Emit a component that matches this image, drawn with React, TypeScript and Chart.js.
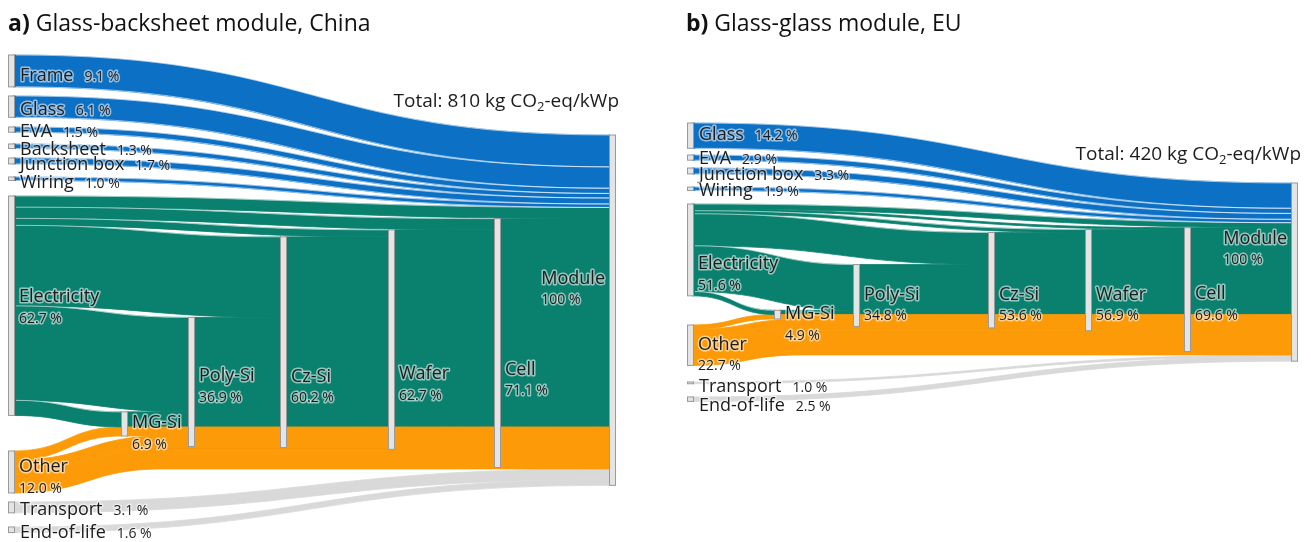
import React, { useEffect, useRef } from "react";
import { Chart, registerables } from "chart.js";

Chart.register(...registerables);

const CANVAS_H = 542;
const FONT = '"Open Sans", "Noto Sans", "DejaVu Sans", sans-serif';
const COLORS: Record<string, string> = {
  material: "#0c70c4",
  electricity: "#0a806e",
  other: "#fd9a07",
  transport: "#d9d9d9",
};
const NODE_FILL = "#e4e4e4";
const NODE_STROKE = "#9a9a9a";
const TEXT = "#1c1c1c";

// ===== a) Glass-backsheet module, China =====
const A_SOURCES = ["Frame", "Glass", "EVA", "Backsheet", "Junction box", "Wiring", "Electricity", "Other", "Transport", "End-of-life"];
const A_SOURCE_SHARE = [9.1, 6.1, 1.5, 1.3, 1.7, 1.0, 62.7, 12.0, 3.1, 1.6];
const A_SOURCE_GROUP = ["material", "material", "material", "material", "material", "material", "electricity", "other", "transport", "transport"];
const A_STAGES = ["MG-Si", "Poly-Si", "Cz-Si", "Wafer", "Cell", "Module"];
const A_STAGE_SHARE = [6.9, 36.9, 60.2, 62.7, 71.1, 100];
const A_ELECTRICITY_TO_STAGE = [4.3, 27.0, 23.0, 2.0, 3.2, 3.2];
const A_OTHER_TO_STAGE = [2.6, 3.0, 0.3, 0.5, 5.2, 0.4];
const A_TOTAL_KG = 810;

// ===== b) Glass-glass module, EU =====
const B_SOURCES = ["Glass", "EVA", "Junction box", "Wiring", "Electricity", "Other", "Transport", "End-of-life"];
const B_SOURCE_SHARE = [14.2, 2.9, 3.3, 1.9, 51.6, 22.7, 1.0, 2.5];
const B_SOURCE_GROUP = ["material", "material", "material", "material", "electricity", "other", "transport", "transport"];
const B_STAGES = ["MG-Si", "Poly-Si", "Cz-Si", "Wafer", "Cell", "Module"];
const B_STAGE_SHARE = [4.9, 34.8, 53.6, 56.9, 69.6, 100];
const B_ELECTRICITY_TO_STAGE = [2.4, 25.7, 18.0, 1.7, 1.0, 2.8];
const B_OTHER_TO_STAGE = [2.5, 4.2, 0.8, 1.6, 11.7, 1.9];
const B_TOTAL_KG = 420;

interface PanelData {
  sources: string[];
  share: number[];
  group: string[];
  stages: string[];
  stageShare: number[];
  elecIn: number[];
  otherIn: number[];
  totalKg: number;
}

interface PanelLayout {
  canvasLeft: number;
  canvasWidth: number;
  titleBold: string;
  title: string;
  titleX: number;
  titleBaseline: number;
  originPx: number;
  pxPerPct: number;
  columnX: number[];
  nodeWidth: number;
  sourceGap: number[];
  moduleTop: number;
  sourceLabelDy: number[];
  stageLabelDy: number[];
  otherReach: number;
  totalBaseline: number;
}

const DATA_A: PanelData = {
  sources: A_SOURCES, share: A_SOURCE_SHARE, group: A_SOURCE_GROUP, stages: A_STAGES,
  stageShare: A_STAGE_SHARE, elecIn: A_ELECTRICITY_TO_STAGE, otherIn: A_OTHER_TO_STAGE, totalKg: A_TOTAL_KG,
};
const DATA_B: PanelData = {
  sources: B_SOURCES, share: B_SOURCE_SHARE, group: B_SOURCE_GROUP, stages: B_STAGES,
  stageShare: B_STAGE_SHARE, elecIn: B_ELECTRICITY_TO_STAGE, otherIn: B_OTHER_TO_STAGE, totalKg: B_TOTAL_KG,
};

const LAYOUT_A: PanelLayout = {
  canvasLeft: 0, canvasWidth: 655,
  titleBold: "a)", title: " Glass-backsheet module, China", titleX: 8, titleBaseline: 31,
  originPx: 55, pxPerPct: 3.5,
  columnX: [8, 121, 188, 280, 388, 494, 609], nodeWidth: 6,
  sourceGap: [0, 2.6, 2.76, 3.36, 2.7, 3.73, 4.43, 10.16, 2.57, 4.04],
  moduleTop: 22.86,
  sourceLabelDy: [4, 2, 1, 2, 3, 3, -10, -6, 1, 2],
  stageLabelDy: [-2, -7, 33, 33, 25, -33],
  otherReach: 150,
  totalBaseline: 107,
};
const LAYOUT_B: PanelLayout = {
  canvasLeft: 655, canvasWidth: 656,
  titleBold: "b)", title: " Glass-glass module, EU", titleX: 31, titleBaseline: 31,
  originPx: 123, pxPerPct: 1.78,
  columnX: [32, 119, 198, 333, 430, 529, 636], nodeWidth: 6,
  sourceGap: [0, 3.8, 4.4, 7.4, 7.6, 16.4, 9.3, 7.4],
  moduleTop: 33.71,
  sourceLabelDy: [-2, 0, 3, 1, 13, -2, 3, 5],
  stageLabelDy: [-2, -2, 13, 13, 3, -35],
  otherReach: 110,
  totalBaseline: 160,
};

interface NodeBox { name: string; pct: number; col: number; top: number; v: number; labelDy: number; mode: "inline" | "two" | "module"; }
interface Band { color: string; v: number; }
interface Flow { c0: number; c1: number; s0: number; t0: number; v: number; bands: Band[]; reach: number | null; layer: number; sep: boolean; }

const sum = (a: number[]) => a.reduce((p, c) => p + c, 0);

function buildSankey(d: PanelData, l: PanelLayout) {
  const nodes: NodeBox[] = [];
  const flows: Flow[] = [];
  const last = d.stages.length - 1;
  const matTotal = sum(d.share.filter((_, i) => d.group[i] === "material"));
  const grayTotal = sum(d.share.filter((_, i) => d.group[i] === "transport"));
  const cumE: number[] = [];
  const cumO: number[] = [];
  const val: number[] = [];
  d.stages.forEach((_, s) => {
    cumE[s] = (s ? cumE[s - 1] : 0) + d.elecIn[s];
    cumO[s] = (s ? cumO[s - 1] : 0) + d.otherIn[s];
    val[s] = cumE[s] + cumO[s] + (s === last ? matTotal + grayTotal : 0);
  });
  const top: number[] = [];
  top[last] = l.moduleTop;
  for (let s = last; s > 0; s--) top[s - 1] = top[s] + (s === last ? matTotal : 0) + d.elecIn[s];
  const eSlot = (s: number) => top[s] + (s === last ? matTotal : 0);
  const prevSlot = (s: number) => eSlot(s) + d.elecIn[s];
  const oSlot = (s: number) => prevSlot(s) + (s > 0 ? val[s - 1] : 0);
  let matCursor = top[last];
  let grayCursor = oSlot(last) + d.otherIn[last];

  let y = 0;
  d.sources.forEach((name, i) => {
    y += l.sourceGap[i];
    const g = d.group[i];
    const v = d.share[i];
    nodes.push({ name, pct: v, col: 0, top: y, v, labelDy: l.sourceLabelDy[i], mode: g === "electricity" || g === "other" ? "two" : "inline" });
    let cursor = y;
    if (g === "material") {
      flows.push({ c0: 0, c1: last + 1, s0: cursor, t0: matCursor, v, bands: [{ color: COLORS.material, v }], reach: null, layer: 3, sep: true });
      matCursor += v;
    } else if (g === "transport") {
      flows.push({ c0: 0, c1: last + 1, s0: cursor, t0: grayCursor, v, bands: [{ color: COLORS.transport, v }], reach: null, layer: 0, sep: false });
      grayCursor += v;
    } else if (g === "electricity") {
      for (let s = last; s >= 0; s--) {
        const f = d.elecIn[s];
        if (f > 0) flows.push({ c0: 0, c1: s + 1, s0: cursor, t0: eSlot(s), v: f, bands: [{ color: COLORS.electricity, v: f }], reach: null, layer: 2, sep: true });
        cursor += f;
      }
    } else if (g === "other") {
      for (let s = 0; s <= last; s++) {
        const f = d.otherIn[s];
        if (f > 0) flows.push({ c0: 0, c1: s + 1, s0: cursor, t0: oSlot(s), v: f, bands: [{ color: COLORS.other, v: f }], reach: l.otherReach, layer: 1, sep: false });
        cursor += f;
      }
    }
    y += v;
  });
  d.stages.forEach((name, s) => {
    nodes.push({ name, pct: d.stageShare[s], col: s + 1, top: top[s], v: val[s], labelDy: l.stageLabelDy[s], mode: s === last ? "module" : "two" });
    if (s < last) {
      flows.push({
        c0: s + 1, c1: s + 2, s0: top[s], t0: prevSlot(s + 1), v: val[s],
        bands: [{ color: COLORS.electricity, v: cumE[s] }, { color: COLORS.other, v: cumO[s] }],
        reach: null, layer: 2, sep: false,
      });
    }
  });
  return { nodes, flows };
}

function ribbonPath(ctx: CanvasRenderingContext2D, x0: number, x1: number, a0: number, a1: number, b0: number, b1: number, reach: number | null) {
  const L = Math.min(x1 - x0, reach ?? Infinity);
  const xm = x0 + L / 2;
  const xe = x0 + L;
  ctx.beginPath();
  ctx.moveTo(x0, a0);
  ctx.bezierCurveTo(xm, a0, xm, b0, xe, b0);
  if (xe < x1) ctx.lineTo(x1, b0);
  ctx.lineTo(x1, b1);
  if (xe < x1) ctx.lineTo(xe, b1);
  ctx.bezierCurveTo(xm, b1, xm, a1, x0, a1);
  ctx.closePath();
}

function edgePath(ctx: CanvasRenderingContext2D, x0: number, x1: number, a: number, b: number, reach: number | null) {
  const L = Math.min(x1 - x0, reach ?? Infinity);
  const xm = x0 + L / 2;
  const xe = x0 + L;
  ctx.moveTo(x0, a);
  ctx.bezierCurveTo(xm, a, xm, b, xe, b);
  if (xe < x1) ctx.lineTo(x1, b);
}

function haloText(ctx: CanvasRenderingContext2D, text: string, x: number, y: number) {
  ctx.lineJoin = "round";
  ctx.lineWidth = 3;
  ctx.strokeStyle = "rgba(255,255,255,0.55)";
  ctx.strokeText(text, x, y);
  ctx.fillStyle = TEXT;
  ctx.fillText(text, x, y);
}

const fmtPct = (v: number) => (v >= 100 ? `${Math.round(v)} %` : `${v.toFixed(1)} %`);

function sankeyPlugin(d: PanelData, l: PanelLayout) {
  return {
    id: "sankeyDraw",
    afterDatasetsDraw(chart: any) {
      const ctx: CanvasRenderingContext2D = chart.ctx;
      const xs = chart.scales.x;
      const ys = chart.scales.y;
      const X = (v: number) => xs.getPixelForValue(v);
      const Y = (v: number) => ys.getPixelForValue(v);
      const { nodes, flows } = buildSankey(d, l);
      const colL = (c: number) => X(l.columnX[c]);
      const colR = (c: number) => X(l.columnX[c] + l.nodeWidth);
      const last = d.stages.length;

      ctx.save();
      const ordered = [...flows].sort((p, q) => p.layer - q.layer);
      for (const f of ordered) {
        const x0 = colR(f.c0) - 1;
        const x1 = colL(f.c1) + 1;
        let off = 0;
        for (const b of f.bands) {
          if (b.v <= 0) continue;
          ribbonPath(ctx, x0, x1, Y(f.s0 + off), Y(f.s0 + off + b.v), Y(f.t0 + off), Y(f.t0 + off + b.v), f.reach);
          ctx.fillStyle = b.color;
          ctx.fill();
          // cover anti-aliasing seams between adjacent ribbons of the same colour
          ctx.strokeStyle = b.color;
          ctx.lineWidth = 0.8;
          ctx.lineJoin = "miter";
          ctx.stroke();
          off += b.v;
        }
      }
      // thin white separators between blue / direct electricity flows
      ctx.strokeStyle = "rgba(255,255,255,0.8)";
      ctx.lineWidth = 0.7;
      for (const f of ordered) {
        const thick = Y(f.s0 + f.v) - Y(f.s0);
        if (!f.sep || thick < 2.5) continue;
        const x0 = colR(f.c0) + 2;
        const x1 = colL(f.c1);
        ctx.beginPath();
        edgePath(ctx, x0, x1, Y(f.s0), Y(f.t0), f.reach);
        if (f.layer === 3) edgePath(ctx, x0, x1, Y(f.s0 + f.v), Y(f.t0 + f.v), f.reach);
        ctx.stroke();
      }

      // nodes
      for (const n of nodes) {
        const x = Math.round(colL(n.col)) + 0.5;
        const w = Math.round(colR(n.col) - colL(n.col));
        const yt = Y(n.top);
        const h = Math.max(1.5, Y(n.top + n.v) - yt);
        ctx.fillStyle = NODE_FILL;
        ctx.fillRect(x, yt, w, h);
        ctx.strokeStyle = NODE_STROKE;
        ctx.lineWidth = 1;
        ctx.strokeRect(x, yt, w, h);
      }

      // labels
      ctx.textBaseline = "alphabetic";
      ctx.textAlign = "left";
      for (const n of nodes) {
        const cy = (Y(n.top) + Y(n.top + n.v)) / 2 + n.labelDy;
        const pct = fmtPct(n.pct);
        if (n.mode === "inline") {
          const x = colR(n.col) + 6;
          ctx.font = `18px ${FONT}`;
          haloText(ctx, n.name, x, cy + 6.5);
          const w = ctx.measureText(n.name).width;
          ctx.font = `14px ${FONT}`;
          haloText(ctx, pct, x + w + 11, cy + 6.5);
        } else {
          ctx.font = `18px ${FONT}`;
          let x = colR(n.col) + 5;
          if (n.mode === "module") x = colL(last) - 4 - ctx.measureText(n.name).width;
          haloText(ctx, n.name, x, cy + 6.5);
          ctx.font = `14px ${FONT}`;
          haloText(ctx, pct, x, cy + 27);
        }
      }

      // total
      const parts: [string, number, number][] = [[`Total: ${d.totalKg} kg CO`, 19, 0], ["2", 13, 4], ["-eq/kWp", 19, 0]];
      let tw = 0;
      for (const [t, s] of parts) { ctx.font = `${s}px ${FONT}`; tw += ctx.measureText(t).width; }
      let tx = colR(last) + 4 - tw;
      ctx.fillStyle = TEXT;
      for (const [t, s, dy] of parts) {
        ctx.font = `${s}px ${FONT}`;
        ctx.fillText(t, tx, l.totalBaseline + dy);
        tx += ctx.measureText(t).width;
      }

      // title
      ctx.fillStyle = "#111";
      ctx.font = `bold 23px ${FONT}`;
      ctx.fillText(l.titleBold, l.titleX, l.titleBaseline);
      const bw = ctx.measureText(l.titleBold).width;
      ctx.font = `23px ${FONT}`;
      ctx.fillText(l.title, l.titleX + bw, l.titleBaseline);
      ctx.restore();
    },
  };
}

function SankeyPanel({ data, layout }: { data: PanelData; layout: PanelLayout }) {
  const ref = useRef<HTMLCanvasElement>(null);
  useEffect(() => {
    if (!ref.current) return;
    const yMin = -layout.originPx / layout.pxPerPct;
    const yMax = (CANVAS_H - layout.originPx) / layout.pxPerPct;
    const chart = new Chart(ref.current, {
      type: "scatter",
      data: { datasets: [{ data: [], pointRadius: 0 }] },
      options: {
        animation: false,
        responsive: false,
        maintainAspectRatio: false,
        events: [],
        layout: { padding: 0 },
        plugins: { legend: { display: false }, tooltip: { enabled: false }, title: { display: false } },
        scales: {
          x: { type: "linear", display: false, min: 0, max: layout.canvasWidth, bounds: "data", grace: 0 },
          y: { type: "linear", display: false, min: yMin, max: yMax, reverse: true, bounds: "data", grace: 0 },
        },
      } as any,
      plugins: [sankeyPlugin(data, layout)],
    });
    return () => chart.destroy();
  }, [data, layout]);
  return (
    <canvas
      ref={ref}
      width={layout.canvasWidth}
      height={CANVAS_H}
      style={{ position: "absolute", left: layout.canvasLeft, top: 0, width: layout.canvasWidth, height: CANVAS_H }}
    />
  );
}

export default function App() {
  return (
    <div style={{ position: "fixed", left: 0, top: 0, width: 1311, height: CANVAS_H, background: "#fff", overflow: "hidden" }}>
      <SankeyPanel data={DATA_A} layout={LAYOUT_A} />
      <SankeyPanel data={DATA_B} layout={LAYOUT_B} />
    </div>
  );
}
